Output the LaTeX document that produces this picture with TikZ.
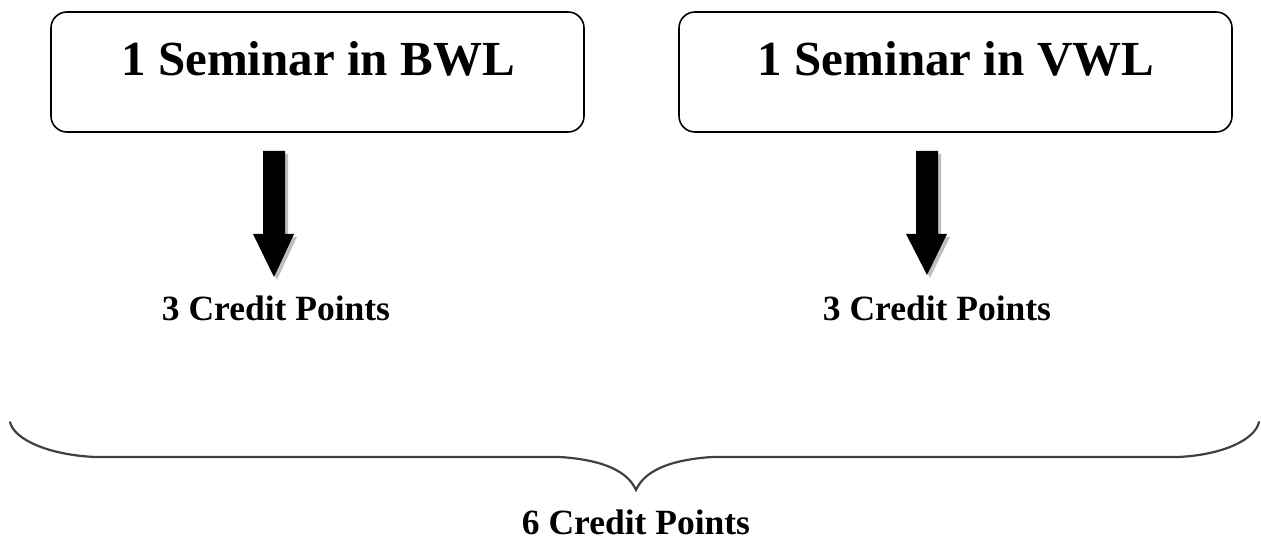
\documentclass[tikz,border=0pt]{standalone}
\usepackage{fontspec}
\setmainfont{Liberation Serif}
\begin{document}
\begin{tikzpicture}[x=1pt,y=-1pt,
  seminarbox/.style={draw=black,line width=1.6pt,rounded corners=16pt},
  titletext/.style={anchor=base,inner sep=0pt,font=\fontsize{49}{55}\selectfont\bfseries},
  credittext/.style={anchor=base,inner sep=0pt,font=\fontsize{35.5}{40}\selectfont\bfseries},
  blockarrow/.style={fill=black},
  arrowshadow/.style={fill=black!25},
  bracestroke/.style={draw=black!75,line width=2.2pt,line cap=round}]
  \useasboundingbox (0,0) rectangle (1261,548);

  % the two seminar boxes
  \draw[seminarbox] (51,12) rectangle (584,132);
  \draw[seminarbox] (679,12) rectangle (1232,132);
  \node[titletext] (bwl) at (318,76) {1 Seminar in BWL};
  \node[titletext] (vwl) at (956,76) {1 Seminar in VWL};

  % thick down arrows with a soft grey shadow
  \foreach \cx/\tipy in {274/277, 927/275} {
    \begin{scope}[shift={(\cx+3,3)}]
      \fill[arrowshadow] (-11,151) -- (11,151) -- (11,234) -- (20,234) -- (0,\tipy) -- (-21,234) -- (-11,234) -- cycle;
    \end{scope}
    \begin{scope}[shift={(\cx,0)}]
      \fill[blockarrow] (-11,151) -- (11,151) -- (11,234) -- (20,234) -- (0,\tipy) -- (-21,234) -- (-11,234) -- cycle;
    \end{scope}
  }

  % credit labels
  \node[credittext] (cpl) at (276,320) {3 Credit Points};
  \node[credittext] (cpr) at (937,320) {3 Credit Points};

  % the long curly brace
  \coordinate (bl) at (10,422);
  \coordinate (br) at (1259,422);
  \coordinate (tip) at (636,490);
  \draw[bracestroke] (bl) .. controls (14,440) and (50,455) .. (95,457)
    -- (560,457) .. controls (605,460) and (628,472) .. (tip)
    .. controls (644,472) and (667,460) .. (712,457)
    -- (1178,457) .. controls (1222,455) and (1255,440) .. (br);

  \node[credittext] (total) at (636,534) {6 Credit Points};
\end{tikzpicture}
\end{document}
